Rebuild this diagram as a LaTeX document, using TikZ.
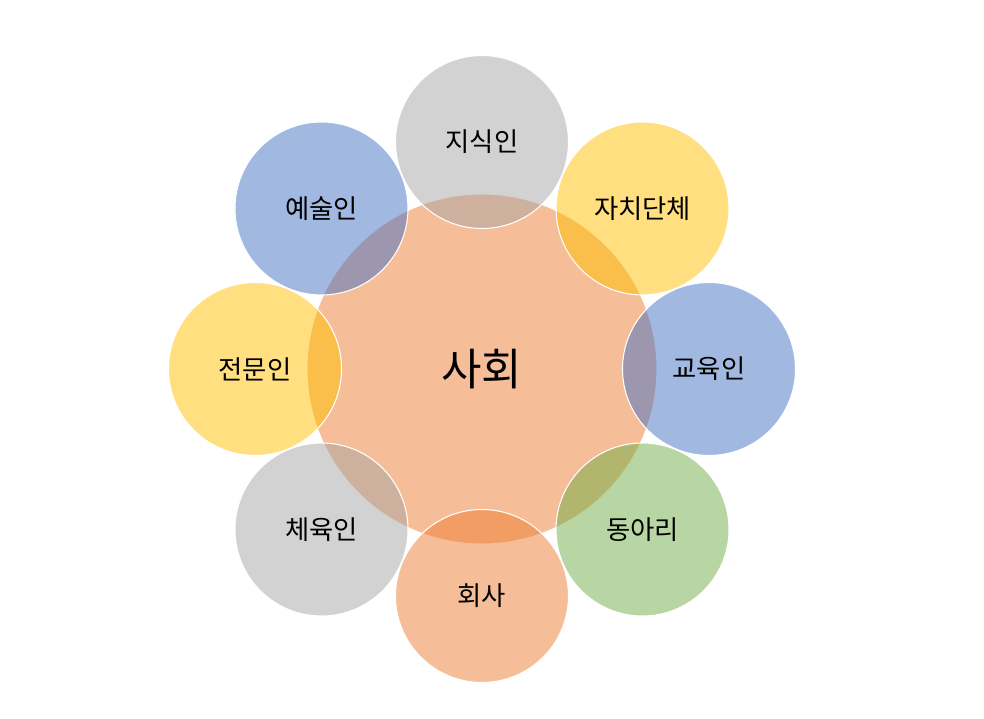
\documentclass[tikz,border=0pt]{standalone}
\usepackage{fontspec}
\newfontfamily\kr{Noto Sans CJK KR}
\usepackage{tikz}
\usetikzlibrary{positioning}
\usepackage{xcolor}
\definecolor{grayC}{HTML}{A5A5A5}
\definecolor{goldC}{HTML}{FFC000}
\definecolor{blueC}{HTML}{4472C4}
\definecolor{greenC}{HTML}{70AD47}
\definecolor{orangeC}{HTML}{ED7D31}

\begin{document}
\begin{tikzpicture}[
  every node/.style={circle, draw=white, line width=0.6pt, fill opacity=0.5, text opacity=1, inner sep=0pt},
  hub/.style={minimum size=7cm, fill=orangeC, font=\kr\fontsize{25}{30}\selectfont},
  bubble/.style={minimum size=3.46cm, fill=#1, font=\kr\fontsize{15}{18}\selectfont}
]
\useasboundingbox (-9.64,-7.0) rectangle (10.04,7.38);
\node[hub] (society) at (0,0) {사회};
\foreach \ang/\nm/\col/\txt in {
  90/jisik/grayC/지식인,
  45/jachi/goldC/자치단체,
  0/gyoyuk/blueC/교육인,
  -45/dongari/greenC/동아리,
  -90/hoesa/orangeC/회사,
  -135/cheyuk/grayC/체육인,
  180/jeonmun/goldC/전문인,
  135/yesul/blueC/예술인}
  \node[bubble=\col] (\nm) at (\ang:4.54) {\txt};
\end{tikzpicture}
\end{document}
